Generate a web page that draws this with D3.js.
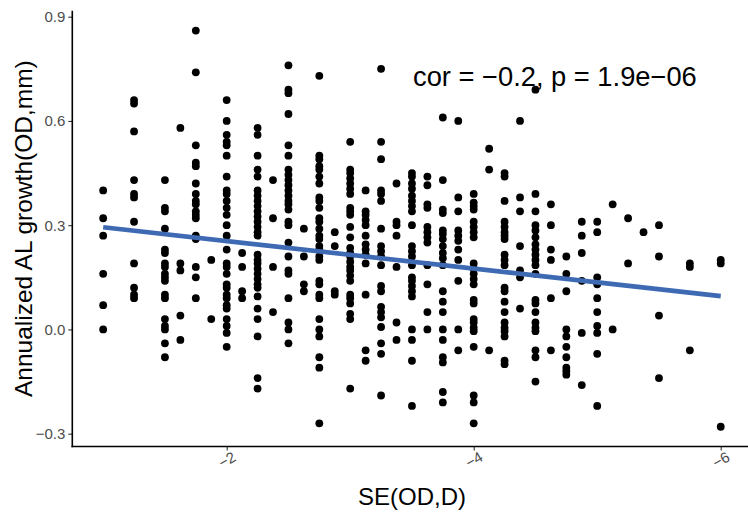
<!DOCTYPE html>
<html>
<head>
<meta charset="utf-8">
<script src="https://cdn.jsdelivr.net/npm/d3@7"></script>
<style>
  html, body { margin: 0; padding: 0; background: #fff; }
  svg { display: block; }
</style>
</head>
<body>
<svg id="chart" width="748" height="514"></svg>
<script>
// ---- data ----
const seLevels = [-1.0, -1.25, -1.5, -1.625, -1.75, -1.875, -2.0, -2.125, -2.25, -2.375, -2.5, -2.625,
  -2.75, -2.875, -3.0, -3.125, -3.25, -3.375, -3.5, -3.625, -3.75, -3.875, -4.0, -4.125, -4.25, -4.375,
  -4.5, -4.625, -4.75, -4.875, -5.0, -5.125, -5.25, -5.375, -5.5, -5.75, -6.0];

const alGrowth = [
  [0.40, 0.32, 0.27, 0.16, 0.07, 0.00],
  [0.66, 0.65, 0.57, 0.43, 0.39, 0.38, 0.31, 0.19, 0.12, 0.10, 0.09],
  [0.43, 0.35, 0.34, 0.29, 0.23, 0.22, 0.19, 0.18, 0.16, 0.15, 0.14, 0.10, 0.09, 0.03, 0.01, 0.00, -0.04, -0.08],
  [0.58, 0.19, 0.17, 0.04, -0.03],
  [0.86, 0.74, 0.53, 0.48, 0.47, 0.42, 0.39, 0.37, 0.36, 0.34, 0.33, 0.32, 0.27, 0.26, 0.18, 0.15, 0.09],
  [0.20, 0.03],
  [0.66, 0.60, 0.56, 0.54, 0.53, 0.50, 0.44, 0.40, 0.39, 0.37, 0.35, 0.33, 0.30, 0.27, 0.23, 0.19, 0.18, 0.16, 0.13, 0.12, 0.10, 0.09, 0.07, 0.06, 0.03, 0.01, -0.01, -0.05],
  [0.22, 0.18, 0.11, 0.09],
  [0.58, 0.56, 0.50, 0.46, 0.44, 0.40, 0.385, 0.37, 0.355, 0.34, 0.325, 0.31, 0.295, 0.28, 0.27, 0.215, 0.20, 0.19, 0.175, 0.16, 0.145, 0.13, 0.12, 0.095, 0.06, 0.03, -0.02, -0.14, -0.17],
  [0.43, 0.32, 0.18, 0.05],
  [0.76, 0.69, 0.68, 0.62, 0.53, 0.50, 0.46, 0.445, 0.43, 0.415, 0.40, 0.385, 0.37, 0.36, 0.345, 0.31, 0.30, 0.25, 0.21, 0.17, 0.16, 0.09, 0.02, 0.00, -0.04],
  [0.29, 0.21, 0.13, 0.11],
  [0.73, 0.50, 0.49, 0.47, 0.46, 0.44, 0.42, 0.38, 0.37, 0.35, 0.32, 0.31, 0.29, 0.27, 0.26, 0.24, 0.23, 0.21, 0.20, 0.14, 0.13, 0.10, 0.09, 0.03, 0.00, -0.02, -0.08, -0.11, -0.27],
  [0.28, 0.24, 0.11, 0.10],
  [0.54, 0.46, 0.45, 0.435, 0.42, 0.405, 0.39, 0.35, 0.34, 0.33, 0.295, 0.265, 0.235, 0.22, 0.21, 0.195, 0.18, 0.17, 0.155, 0.14, 0.10, 0.09, 0.075, 0.045, 0.03, -0.17],
  [0.40, 0.34, 0.33, 0.315, 0.30, 0.27, 0.245, 0.23, 0.215, 0.19, 0.10, -0.06, -0.09],
  [0.75, 0.54, 0.49, 0.40, 0.39, 0.37, 0.29, 0.24, 0.225, 0.21, 0.185, 0.125, 0.11, 0.065, 0.05, 0.035, 0.007, -0.04, -0.07, -0.19],
  [0.42, 0.31, 0.30, 0.27, 0.18, 0.02, -0.03],
  [0.45, 0.44, 0.42, 0.405, 0.385, 0.37, 0.355, 0.34, 0.30, 0.24, 0.225, 0.21, 0.185, 0.15, 0.14, 0.125, 0.11, 0.095, 0.00, -0.03, -0.09, -0.22],
  [0.44, 0.415, 0.36, 0.35, 0.295, 0.28, 0.265, 0.25, 0.185, 0.13, 0.05, 0.00],
  [0.61, 0.43, 0.345, 0.335, 0.285, 0.275, 0.26, 0.24, 0.22, 0.205, 0.185, 0.11, 0.08, 0.05, 0.00, -0.03, -0.08, -0.095, -0.18, -0.21],
  [0.60, 0.38, 0.34, 0.285, 0.27, 0.255, 0.23, 0.20, 0.14, 0.00, -0.06],
  [0.39, 0.365, 0.355, 0.345, 0.31, 0.295, 0.28, 0.265, 0.19, 0.175, 0.16, 0.145, 0.13, 0.085, 0.075, 0.03, 0.02, 0.005, -0.005, -0.05, -0.19, -0.21, -0.27],
  [0.52, 0.46, -0.06],
  [0.45, 0.44, 0.37, 0.31, 0.295, 0.28, 0.27, 0.26, 0.215, 0.20, 0.185, 0.12, 0.11, 0.08, 0.05, 0.02, 0.005, -0.005, -0.02, -0.09, -0.10],
  [0.60, 0.38, 0.34, 0.24, 0.17, 0.15, 0.06],
  [0.69, 0.39, 0.34, 0.30, 0.285, 0.265, 0.245, 0.23, 0.215, 0.20, 0.185, 0.16, 0.085, 0.075, 0.05, 0.02, 0.005, -0.005, -0.06, -0.08, -0.15],
  [0.36, 0.30, 0.23, 0.20, 0.09, -0.06],
  [0.21, 0.16, 0.11, 0.00, -0.02, -0.05, -0.08, -0.11, -0.12, -0.13],
  [0.31, 0.27, 0.22, 0.14, -0.01, -0.16],
  [0.31, 0.28, 0.15, 0.13, 0.09, 0.05, 0.01, -0.01, -0.07, -0.22],
  [0.36, 0.00],
  [0.32, 0.19],
  [0.28],
  [0.30, 0.21, 0.04, -0.14],
  [0.19, 0.18, -0.06],
  [0.20, 0.19, -0.28]
];

// fitted regression line endpoints
const fitSE = [-1.0, -6.0];
const fitGrowth = [0.294, 0.096];

const xTicks = [-2, -4, -6];
const yTicks = [-0.3, 0.0, 0.3, 0.6, 0.9];
const annotation = "cor = \u22120.2, p = 1.9e\u221206";
const xTitle = "SE(OD,D)";
const yTitle = "Annualized AL growth(OD,mm)";

// ---- build ----
const points = [];
seLevels.forEach((se, i) => alGrowth[i].forEach(g => points.push({ se, g })));

const svg = d3.select("#chart");
const FONT = "'Liberation Sans', Arial, Helvetica, sans-serif";

const x = d3.scaleLinear().domain([-0.75, -6.25]).range([72.3, 751.6]);
const y = d3.scaleLinear().domain([-0.3, 0.9]).range([433.7, 16.7]);
const yTop = y(0.917), yBot = y(-0.337);
const xLeft = x(-0.75);

// points
svg.append("g").selectAll("circle").data(points).join("circle")
  .attr("cx", d => x(d.se)).attr("cy", d => y(d.g)).attr("r", 3.9)
  .attr("fill", "#000");

// regression line
svg.append("path")
  .datum(fitSE.map((s, i) => [s, fitGrowth[i]]))
  .attr("d", d3.line().x(d => x(d[0])).y(d => y(d[1])))
  .attr("fill", "none").attr("stroke", "#3E6AB4").attr("stroke-width", 4.6);

// annotation
svg.append("text").attr("x", 413).attr("y", 86)
  .attr("font-family", FONT).attr("font-size", 27.3).attr("fill", "#000")
  .text(annotation);

// y axis
const yAxis = svg.append("g").attr("transform", `translate(${xLeft},0)`)
  .call(d3.axisLeft(y).tickValues(yTicks).tickSize(4).tickPadding(3).tickFormat(d3.format(".1f")));
yAxis.select(".domain").remove();
yAxis.selectAll(".tick line").attr("stroke", "#333").attr("stroke-width", 1.1);
yAxis.selectAll(".tick text").attr("font-family", FONT).attr("font-size", 15).attr("fill", "#4D4D4D")
  .text(d => d3.format(".1f")(d).replace("-", "\u2212"));

// x axis
const xAxis = svg.append("g").attr("transform", `translate(0,${yBot})`)
  .call(d3.axisBottom(x).tickValues(xTicks).tickSize(4).tickFormat(d => d));
xAxis.select(".domain").remove();
xAxis.selectAll(".tick line").attr("stroke", "#333").attr("stroke-width", 1.1);
xAxis.selectAll(".tick text")
  .attr("font-family", FONT).attr("font-size", 15).attr("fill", "#4D4D4D")
  .attr("text-anchor", "start").attr("dy", null).attr("y", 0)
  .attr("transform", "translate(-5,22) rotate(-30)")
  .text(d => "\u2212" + Math.abs(d));

// axis lines
svg.append("line").attr("x1", xLeft).attr("x2", xLeft).attr("y1", yTop).attr("y2", yBot + 0.7)
  .attr("stroke", "#000").attr("stroke-width", 1.6);
svg.append("line").attr("x1", xLeft - 0.8).attr("x2", 751.6).attr("y1", yBot).attr("y2", yBot)
  .attr("stroke", "#000").attr("stroke-width", 1.6);

// titles
svg.append("text").attr("x", 412).attr("y", 505).attr("text-anchor", "middle")
  .attr("font-family", FONT).attr("font-size", 24).attr("fill", "#000").text(xTitle);
svg.append("text").attr("transform", `translate(32,${(yTop + yBot) / 2}) rotate(-90)`)
  .attr("text-anchor", "middle")
  .attr("font-family", FONT).attr("font-size", 24.5).attr("fill", "#000").text(yTitle);
</script>
</body>
</html>
